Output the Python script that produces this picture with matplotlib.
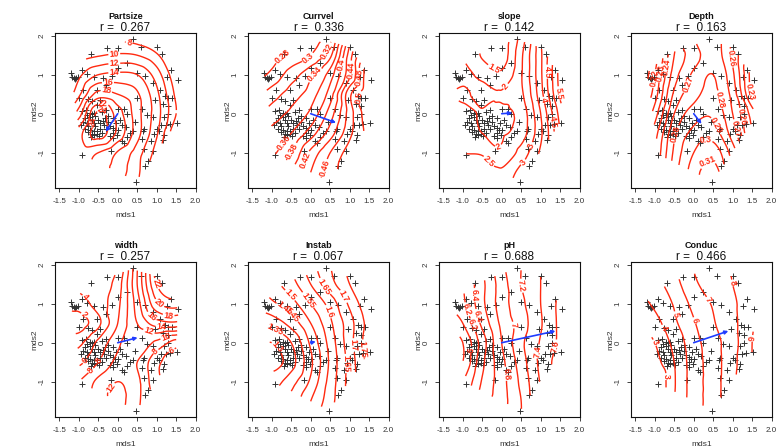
import numpy as np
import matplotlib
matplotlib.use("Agg")
import matplotlib.pyplot as plt
import matplotlib.tri as mtri
from matplotlib.path import Path

plt.rcParams['font.family'] = ['Liberation Sans', 'DejaVu Sans']
plt.rcParams['axes.unicode_minus'] = False

# ---- site scores (NMDS axes) ----
mds1 = [0.38, -0.28, 0.02, 0.61, 1.00, 1.14, -0.69,
        -0.92, -1.21, -1.18, -1.12, -1.07, -1.01, -1.10,
        -0.78, -0.62, -0.38, -0.15, 0.02, 0.23, 0.50, 0.70, 0.91, 1.26, 1.36, 1.56,
        -0.88, -0.30, -0.54, -1.00, -0.67, -0.54, -0.45, -0.77,
        0.49, 1.09, 0.97, 1.22, 1.30, 1.17, 1.30, 1.39,
        0.63, 0.02, 0.15, 0.23,
        0.76, 0.90, 1.19, 1.30, 1.33, 1.24, 1.11, 1.51, 0.68, 0.64, 0.92, 1.19, 1.15,
        1.02, 0.63, 0.85, 1.07, 0.47, 0.69, 0.79, 0.90, 0.68, 0.32, 0.38,
        -0.92, -0.81, -0.78, -0.67, -0.58, -0.71, -0.88, -0.79, -0.75, -0.84, -0.71,
        -0.62, -0.54, -0.54, -0.67, -0.75, -0.58, -0.32, -0.24, -0.19, -0.11, -0.07,
        -0.13, -0.03, -0.19, -0.11, 0.10, 0.15, -0.92, -0.45, -0.38, -0.71, -0.61,
        -0.16, 0.10, 0.05, -0.05, -0.66, -0.62, -0.50, -0.45, -0.40, -0.35, -0.85,
        -0.95, -0.68, -0.60, -0.48, -0.30, -0.25, -0.12, 0.00, 0.20, 0.25, -0.40,
        -0.30, 0.45]
mds2 = [1.91, 1.68, 1.68, 1.71, 1.71, 1.53, 1.52,
        1.12, 1.04, 0.93, 0.92, 0.92, 0.93, 0.88,
        1.02, 0.93, 0.92, 0.97, 1.17, 1.30, 1.05, 0.96, 0.80, 0.93, 1.12, 0.86,
        0.60, 0.74, 0.61, 0.40, 0.33, 0.22, 0.35, 0.39,
        0.40, 0.61, 0.35, 0.46, 0.40, 0.25, 0.21, 0.41,
        0.12, 0.12, 0.12, 0.00,
        -0.04, -0.08, -0.09, -0.01, -0.26, -0.28, -0.30, -0.24, -0.38, -0.44, -0.51, -0.54, -0.68,
        -0.38, -0.65, -0.69, -0.45, -1.75, -1.35, -1.20, -0.95, -0.91, -0.49, -0.45,
        0.06, 0.10, -0.03, -0.01, -0.07, -0.09, -0.20, -0.24, -0.32, -0.38, -0.41,
        -0.45, -0.45, -0.52, -0.52, -0.47, -0.32, -0.11, -0.20, -0.32, -0.37, -0.41,
        -0.50, -0.54, -0.58, -0.61, -0.71, -0.75, -1.05, -0.24, -0.18, 0.01, 0.01,
        -0.96, -0.28, -0.15, -0.25, -0.16, -0.25, -0.15, -0.40, -0.50, -0.30, -0.10,
        -0.30, -0.60, -0.55, -0.58, -0.40, -0.05, -0.10, -0.42, -0.35, -0.60, 0.05,
        0.10, -0.20]

# ---- fitted surfaces on a coarse grid (rows: mds2 from -2 to 2, cols: mds1 from -1.5 to 2) ----
grid_x = [-1.5, -1.0, -0.5, 0.0, 0.5, 1.0, 1.5, 2.0]
grid_y = [-2.0, -1.5, -1.0, -0.5, 0.0, 0.5, 1.0, 1.5, 2.0]

partsize = [[18, 19, 18.5, 16.5, 14, 10, 5, 0],
            [18, 19.5, 19, 17, 14.5, 10, 5, 0],
            [17, 20.5, 20, 17.8, 15, 11, 5, 0],
            [15, 21, 25, 21.5, 16.8, 12.3, 6, 1],
            [11, 17, 24.5, 21, 16.8, 12.9, 8, 3],
            [9, 13.5, 18.8, 18, 16.3, 12.5, 7.5, 3],
            [10, 11.5, 14, 14.5, 14, 11, 6.5, 3],
            [8, 9, 9.8, 10.3, 10, 8.3, 5, 2],
            [6, 7, 7, 7, 6.5, 5, 3, 1]]
currvel = [[0.36, 0.38, 0.41, 0.45, 0.48, 0.51, 0.54, 0.57],
           [0.35, 0.37, 0.40, 0.44, 0.47, 0.50, 0.53, 0.56],
           [0.34, 0.355, 0.38, 0.425, 0.46, 0.49, 0.52, 0.55],
           [0.33, 0.345, 0.36, 0.39, 0.43, 0.475, 0.51, 0.55],
           [0.31, 0.33, 0.345, 0.365, 0.41, 0.47, 0.515, 0.55],
           [0.29, 0.31, 0.33, 0.35, 0.39, 0.475, 0.52, 0.55],
           [0.27, 0.285, 0.31, 0.335, 0.37, 0.435, 0.52, 0.56],
           [0.26, 0.27, 0.285, 0.30, 0.335, 0.43, 0.50, 0.55],
           [0.25, 0.26, 0.27, 0.285, 0.31, 0.41, 0.49, 0.55]]
slope = [[3.0, 3.0, 2.9, 2.9, 3.5, 4.1, 5.0, 6.0],
         [2.9, 2.8, 2.7, 2.6, 3.2, 3.9, 4.9, 6.2],
         [2.6, 2.5, 2.45, 2.1, 2.7, 3.6, 4.9, 6.4],
         [2.4, 2.2, 2.0, 1.95, 2.25, 3.4, 5.0, 6.6],
         [2.4, 2.2, 1.95, 1.9, 2.2, 3.5, 5.2, 6.8],
         [2.1, 1.9, 2.2, 2.05, 2.4, 3.8, 5.6, 7.0],
         [2.2, 2.15, 1.85, 1.6, 2.45, 3.9, 5.7, 7.0],
         [2.3, 2.0, 1.45, 1.25, 2.4, 3.9, 5.6, 7.0],
         [2.4, 2.2, 1.6, 1.2, 2.2, 4.0, 5.8, 7.0]]
depth = [[0.22, 0.25, 0.285, 0.307, 0.318, 0.295, 0.265, 0.23],
         [0.22, 0.25, 0.285, 0.305, 0.315, 0.29, 0.26, 0.23],
         [0.22, 0.25, 0.282, 0.30, 0.306, 0.285, 0.255, 0.225],
         [0.21, 0.245, 0.278, 0.293, 0.295, 0.275, 0.25, 0.22],
         [0.20, 0.235, 0.27, 0.285, 0.288, 0.27, 0.245, 0.21],
         [0.195, 0.225, 0.262, 0.276, 0.283, 0.266, 0.228, 0.20],
         [0.19, 0.22, 0.255, 0.272, 0.28, 0.262, 0.225, 0.20],
         [0.19, 0.215, 0.25, 0.265, 0.275, 0.258, 0.228, 0.20],
         [0.19, 0.215, 0.245, 0.27, 0.275, 0.255, 0.225, 0.20]]
width = [[8, 9, 11, 12, 10, 7, 5, 4],
         [8, 9, 11, 12.5, 10.5, 7, 5, 4],
         [7, 8, 10.5, 12, 10.5, 6.5, 5, 4],
         [5, 5.5, 8, 10.5, 10, 6.5, 5, 4],
         [3, 3.5, 6.5, 9.5, 11.8, 9.5, 7, 5],
         [1, 1, 3.5, 8, 12, 15, 15.5, 13],
         [3, 3, 5, 7.5, 13, 19.5, 21, 18],
         [4.5, 4.5, 5, 7, 14, 22, 25, 22],
         [4.5, 4.5, 5, 6, 14, 24, 26, 22]]
instab = [[1.43, 1.42, 1.46, 1.52, 1.60, 1.67, 1.74, 1.79],
          [1.40, 1.38, 1.42, 1.50, 1.58, 1.67, 1.75, 1.80],
          [1.36, 1.33, 1.38, 1.46, 1.57, 1.67, 1.76, 1.82],
          [1.33, 1.28, 1.33, 1.44, 1.56, 1.67, 1.77, 1.83],
          [1.32, 1.30, 1.35, 1.46, 1.57, 1.68, 1.78, 1.84],
          [1.35, 1.37, 1.42, 1.50, 1.59, 1.68, 1.77, 1.83],
          [1.40, 1.44, 1.48, 1.55, 1.62, 1.71, 1.79, 1.85],
          [1.43, 1.48, 1.53, 1.60, 1.68, 1.75, 1.82, 1.87],
          [1.45, 1.50, 1.55, 1.63, 1.70, 1.77, 1.83, 1.88]]
ph = [[6.1, 6.3, 6.55, 6.75, 7.0, 7.4, 7.7, 7.9],
      [6.0, 6.2, 6.5, 6.72, 7.0, 7.4, 7.7, 7.9],
      [5.8, 6.0, 6.42, 6.72, 7.05, 7.42, 7.7, 7.9],
      [5.6, 5.8, 6.35, 6.74, 7.1, 7.45, 7.7, 7.9],
      [5.6, 5.8, 6.3, 6.8, 7.15, 7.42, 7.65, 7.9],
      [5.8, 6.0, 6.45, 6.85, 7.1, 7.38, 7.65, 7.9],
      [5.9, 6.15, 6.55, 6.9, 7.15, 7.4, 7.65, 7.85],
      [6.0, 6.2, 6.55, 6.9, 7.2, 7.4, 7.6, 7.8],
      [6.1, 6.3, 6.6, 6.95, 7.2, 7.4, 7.6, 7.8]]
conduc = [[2.2, 2.8, 4.1, 5.5, 6.5, 7.8, 9.0, 9.7],
          [1.8, 2.4, 4.0, 5.5, 6.5, 7.8, 9.0, 9.7],
          [1.4, 1.9, 3.9, 5.5, 6.5, 7.8, 9.0, 9.7],
          [1.8, 2.6, 4.0, 5.5, 6.5, 7.7, 9.0, 9.7],
          [2.2, 3.0, 4.3, 5.6, 6.6, 7.6, 9.0, 9.7],
          [2.8, 3.6, 4.8, 5.9, 6.9, 7.7, 8.9, 9.6],
          [3.5, 4.2, 5.1, 6.3, 7.1, 7.8, 8.7, 9.5],
          [4.2, 4.6, 5.6, 6.8, 7.4, 8.0, 8.8, 9.5],
          [4.5, 5.0, 6.2, 7.1, 7.6, 8.1, 8.8, 9.5]]

variables = ["Partsize", "Currvel", "slope", "Depth", "width", "Instab", "pH", "Conduc"]
surfaces = [partsize, currvel, slope, depth, width, instab, ph, conduc]
r_values = [0.267, 0.336, 0.142, 0.163, 0.257, 0.067, 0.688, 0.466]

# fitted vectors (arrow heads)
vec_x = [-0.31, 0.65, 0.27, 0.20, 0.51, 0.13, 1.38, 0.89]
vec_y = [-0.46, -0.23, 0.02, -0.26, 0.13, 0.03, 0.30, 0.30]

contour_levels = [
    [8, 10, 12, 14, 16, 18, 20, 22, 24],
    [0.28, 0.30, 0.32, 0.34, 0.36, 0.38, 0.40, 0.42, 0.44, 0.46, 0.48, 0.50],
    [1.5, 2.0, 2.5, 3.0, 3.5, 4.0, 4.5, 5.0, 5.5],
    [0.21, 0.22, 0.23, 0.24, 0.25, 0.26, 0.27, 0.28, 0.29, 0.30, 0.31],
    [2, 4, 6, 8, 10, 12, 14, 16, 18, 20, 22],
    [1.30, 1.35, 1.40, 1.45, 1.50, 1.55, 1.60, 1.65, 1.70, 1.75, 1.80, 1.85],
    [5.8, 6.0, 6.2, 6.4, 6.6, 6.8, 7.0, 7.2, 7.4, 7.6],
    [2, 3, 4, 5, 6, 7, 8, 9],
]

# where each panel's contour labels sit (ordination coordinates)
label_spots = [
    [(0.28, 1.74), (-0.09, 1.55), (-0.09, 1.32), (-0.09, 1.08), (-0.25, 0.79),
     (-0.30, 0.56), (-0.38, 0.33), (-0.38, 0.11), (-0.49, -0.22)],
    [(-0.63, 1.35), (-0.09, 1.46), (0.39, 1.62), (0.05, 1.05), (0.79, 1.25),
     (1.05, 1.12), (1.25, 0.93), (1.18, 0.42), (-0.68, -0.74), (-0.50, -0.95),
     (-0.10, -1.19), (0.37, -1.40)],
    [(-0.14, 1.23), (0.19, 0.63), (1.17, 1.08), (1.44, 0.52), (1.10, 0.35),
     (1.38, -0.20), (-0.07, -0.89), (-0.28, -1.17), (0.44, -1.15), (0.87, -0.85)],
    [(0.91, 1.42), (1.42, 0.56), (1.26, -0.08), (1.08, -0.38), (0.61, 0.35),
     (0.44, -0.38), (0.31, -0.68), (0.39, -1.27), (-1.09, 0.91), (-0.89, 1.05),
     (-0.68, 1.20), (-0.26, 0.78), (-0.38, -0.55)],
    [(-0.79, 1.21), (-0.85, 0.73), (1.01, 1.52), (1.09, 1.03), (1.31, 0.73),
     (0.88, 0.69), (1.12, 0.41), (0.77, 0.20), (1.26, 0.09), (1.01, -0.27),
     (1.38, -0.19), (-0.66, -0.74), (-0.04, -1.23), (-0.49, -0.44), (-0.80, -0.49)],
    [(0.27, 1.39), (0.87, 1.20), (-0.54, 1.21), (-0.03, 1.12), (0.57, 0.84),
     (-0.62, 0.95), (-0.62, 0.67), (-0.88, 0.41), (-0.85, -0.10), (1.17, -0.06),
     (1.43, -0.15), (1.00, -0.53)],
    [(-0.59, 1.22), (0.62, 1.48), (-0.96, 0.84), (-0.53, 0.71), (-0.80, 0.43),
     (0.28, 0.45), (-0.70, -0.19), (0.97, -0.23), (1.39, -0.10), (0.18, -0.79)],
    [(0.93, 1.52), (0.44, 1.14), (0.06, 0.58), (-0.51, 0.71), (-0.75, 0.39),
     (-0.94, 0.03), (-0.84, -0.87), (1.49, 0.11)],
]

LINE_RED = "#ff2a10"
ARROW_BLUE = "#1f3cff"


def convex_hull(xs, ys):
    pts = sorted(set(zip(xs, ys)))

    def cross(o, a, b):
        return (a[0] - o[0]) * (b[1] - o[1]) - (a[1] - o[1]) * (b[0] - o[0])

    lower, upper = [], []
    for p in pts:
        while len(lower) >= 2 and cross(lower[-2], lower[-1], p) <= 0:
            lower.pop()
        lower.append(p)
    for p in reversed(pts):
        while len(upper) >= 2 and cross(upper[-2], upper[-1], p) <= 0:
            upper.pop()
        upper.append(p)
    return np.array(lower[:-1] + upper[:-1])


hull = Path(convex_hull(mds1, mds2), closed=False)

gx, gy = np.meshgrid(grid_x, grid_y)
tri = mtri.Triangulation(gx.ravel(), gy.ravel())

fx = np.linspace(-1.3, 1.65, 120)
fy = np.linspace(-1.8, 1.95, 140)
FX, FY = np.meshgrid(fx, fy)
inside = hull.contains_points(np.column_stack([FX.ravel(), FY.ravel()])).reshape(FX.shape)


def fmt(v):
    return f"{round(v, 3):g}"


fig = plt.figure(figsize=(7.78, 4.48), dpi=100)
W, H = 778.0, 448.0
col_left = [55, 248, 439, 631]
row_top = [33, 262]
ax_w, ax_h = 141, 155

for i, name in enumerate(variables):
    r, c = divmod(i, 4)
    ax = fig.add_axes([col_left[c] / W, 1 - (row_top[r] + ax_h) / H, ax_w / W, ax_h / H])

    ax.plot(mds1, mds2, linestyle="none", marker="+", markersize=4.0,
            markeredgewidth=0.7, color="#333333", zorder=2)

    ax.set_xlim(-1.61, 2.01)
    ax.set_ylim(-1.905, 2.07)

    z = np.asarray(surfaces[i], dtype=float).ravel()
    interp = mtri.CubicTriInterpolator(tri, z, kind="geom")
    FZ = np.ma.masked_array(interp(FX, FY), mask=~inside)
    cs = ax.contour(FX, FY, FZ, levels=contour_levels[i], colors=LINE_RED,
                    linewidths=1.0, zorder=3)
    labels = ax.clabel(cs, inline=True, fontsize=6.3, fmt=fmt, inline_spacing=1,
                       manual=label_spots[i])
    for t in labels:
        t.set_fontweight("bold")

    ax.annotate("", xy=(vec_x[i], vec_y[i]), xytext=(0, 0),
                arrowprops=dict(arrowstyle="-|>", color=ARROW_BLUE, lw=1.2,
                                mutation_scale=5, shrinkA=0, shrinkB=0),
                zorder=4)

    ax.set_xticks([-1.5, -1.0, -0.5, 0.0, 0.5, 1.0, 1.5, 2.0])
    ax.set_xticklabels(["-1.5", "-1.0", "-0.5", "0.0", "0.5", "1.0", "1.5", "2.0"])
    ax.set_yticks([-1, 0, 1, 2])
    ax.set_yticklabels(["-1", "0", "1", "2"], rotation=90, va="center")
    ax.tick_params(axis="both", labelsize=5.8, length=3, width=0.6,
                   colors="#222222", labelcolor="#333333")
    ax.tick_params(axis="x", pad=4)
    ax.tick_params(axis="y", pad=4)
    for sp in ax.spines.values():
        sp.set_linewidth(0.8)
        sp.set_color("#111111")

    ax.text(0.5, -0.18, "mds1", transform=ax.transAxes, ha="center", va="center",
            fontsize=6, color="#333333")
    ax.text(-0.145, 0.5, "mds2", transform=ax.transAxes, ha="center", va="center",
            rotation=90, fontsize=6, color="#333333")
    ax.text(0.5, 1.105, name, transform=ax.transAxes, ha="center", va="center",
            fontsize=6.5, fontweight="bold", color="#111111")
    ax.text(0.5, 1.03, f"r =  {r_values[i]:.3f}", transform=ax.transAxes,
            ha="center", va="center", fontsize=8.5, color="#111111")

fig.savefig("out.png", dpi=100)
